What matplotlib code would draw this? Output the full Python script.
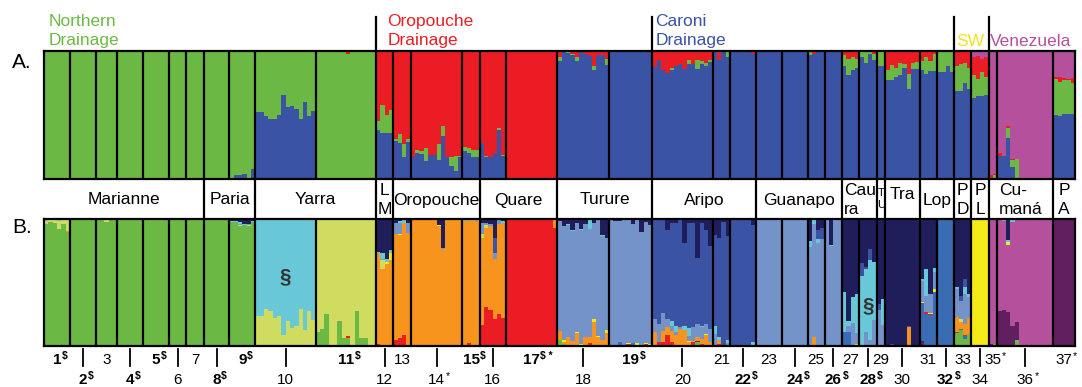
import numpy as np
import matplotlib
matplotlib.use("Agg")
import matplotlib.pyplot as plt
from matplotlib.lines import Line2D
from matplotlib.transforms import Affine2D, blended_transform_factory, offset_copy

plt.rcParams["font.family"] = ["Liberation Sans", "DejaVu Sans"]

W, H = 1082, 387

# individuals sampled per population (populations 1..37)
counts = [6, 6, 5, 6, 6, 4, 4, 6, 6, 14, 14, 4, 4, 12, 4, 6, 12, 12, 10, 14,
          4, 6, 6, 6, 4, 4, 4, 4, 2, 8, 4, 4, 4, 4, 2, 13, 5]

# superscripts after the population numbers; "$" numbers are printed bold
pop_sup = {1: "$", 2: "$", 4: "$", 5: "$", 8: "$", 9: "$", 11: "$", 14: "*",
           15: "$", 17: "$ *", 19: "$", 22: "$", 24: "$", 26: "$", 28: "$",
           32: "$", 35: "*", 36: "*", 37: "*"}

# drainage headers above panel A
header_names = ["Northern\nDrainage", "Oropouche\nDrainage", "Caroni\nDrainage", "SW", "Venezuela"]
header_start = [1, 12, 20, 33, 35]
header_colors = ["#6bb944", "#ec1c24", "#3a53a4", "#f2e41c", "#b5519c"]
header_dx = [5, 11, 3, 2, 1]

# river names between the panels
group_names = ["Marianne", "Paria", "Yarra", "L\nM", "Oropouche", "Quare", "Turure",
               "Aripo", "Guanapo", "Cau\nra", "T\nU", "Tra", "Lop", "P\nD", "P\nL",
               "Cu-\nmaná", "P\nA"]
group_start = [1, 8, 10, 12, 13, 16, 18, 20, 23, 27, 29, 30, 31, 33, 34, 35, 37]

# ---- panel A: membership in 4 clusters ----
a_order = ["blue", "green", "red", "pink"]
a_colors = {"blue": "#3a53a4", "green": "#6bb944", "red": "#ec1c24", "pink": "#b5519c"}
a_main = (["green"] * 11 + ["red"] * 6 + ["blue"] * 17 + ["pink"] * 2 + ["blue"])

a_blue = {
    9: [0, .03, .035, .04, 0, .08],
    10: [.52, .52, .49, .465, .47, .50, .655, .56, .57, .55, .47, .60, .49, .53],
    12: [.38, .36, .36, .36],
    13: [.30, .28, .17, .29],
    14: [.17, .20, .195, .14, .19, .19, .15, .335, .17, .10, .06, .17],
    15: [.22, .20, .17, .17],
    16: [.28, .17, .17, .20, .38, .18],
    35: [.01, 0],
    36: [.18, .18, .32, .09, 0, 0, 0, 0, 0, 0, 0, 0, 0],
}
a_green = {
    12: [.07, .22, .14, .18],
    13: [.01, .07, .10, .02],
    14: [0, .025, .025, .10, 0, 0, .125, .08, 0, .07, .12, .01],
    15: [.03, .04, .06, .06],
    16: [0, .01, 0, 0, .015, .005],
    18: [.03, 0, .005, .01, .025, 0, 0, 0, .025, 0, 0, .05],
    19: [0, 0, 0, 0, 0, .01, 0, 0, 0, 0],
    20: [0, 0, 0, 0, .01, 0, 0, 0, .03, 0, .07, .025, .025, .013],
    21: [0, 0, 0, .035],
    25: [.025, 0, 0, 0],
    27: [.08, .125, .10, .065],
    28: [.05, .09, .025, .045],
    29: [.105, .12],
    30: [.08, .12, .07, .10, .03, .115, .05, .055],
    31: [.07, .13, .08, .13],
    32: [.155, .165, .115, .165],
    33: [.195, .215, .16, .17],
    34: [.175, .135, .19, .14],
    35: [0, .03],
    36: [0, 0, .08, .06, .155, 0, 0, 0, 0, 0, 0, 0, 0],
    37: [.28, .27, .26, .265, .245],
}
a_red = {
    11: [0, 0, 0, 0, 0, 0, 0, .02, 0, 0, 0, 0, 0, 0],
    18: [.05, .01, .01, .02, .05, .01, .02, .04, .12, .03, .03, .06],
    20: [.125, .07, .145, .17, .135, .115, .10, .14, .07, .10, .07, .075, .095, .07],
    21: [.01, .07, .01, .01],
    22: [0, 0, 0, 0, 0, .02],
    25: [.01, .02, .01, 0],
    27: [.035, .065, .045, .065],
    28: [0, 0, 0, .025],
    29: [.01, 0],
    30: [.15, .11, .13, .09, .10, .18, .09, .085],
    31: [.08, .05, .08, .025],
    32: [.01, 0, 0, 0],
    33: [.115, .10, .09, .13],
    34: [.145, .18, .105, .155],
    35: [.02, .01],
    36: [.02, 0, .013, .005, 0, 0, 0, 0, 0, 0, 0, 0, 0],
    37: [.02, .04, .02, .01, .04],
}
a_pink = {
    34: [.045, .04, .06, .05],
    37: [.20, .20, .21, .215, .21],
}

# ---- panel B: membership in 12 clusters ----
b_order = ["green", "purple", "pink", "midblue", "red", "orange", "yellow", "lime",
           "steel", "cyan", "blue", "navy"]
b_colors = {"green": "#6bb944", "purple": "#621f5f", "pink": "#b5519c",
            "midblue": "#3a6cb4", "red": "#ec1c24", "orange": "#f7941d",
            "yellow": "#f4ea17", "lime": "#cfdc5f", "steel": "#7393c9",
            "cyan": "#68c8d7", "blue": "#3a53a4", "navy": "#201e5a"}
b_main = ["green", "green", "green", "green", "green", "green", "green", "green", "green",
          "cyan", "lime", "orange", "orange", "orange", "orange", "orange", "red",
          "steel", "steel", "blue", "blue", "blue", "steel", "steel", "steel", "steel",
          "navy", "cyan", "navy", "navy", "navy", "midblue", "navy", "yellow",
          "pink", "pink", "purple"]

b_navy = {
    1: [.01, .01, .005, .01, .005, .01],
    2: [.005, 0, 0, 0, .005, 0],
    8: [.015, .01, .015, .01, .015, .01],
    9: [.02, .02, .03, .04, .04, .02],
    10: [.01, .01, .01, .01, .01, .01, .01, .01, .01, .01, .01, .01, .01, .01],
    11: [.01, .01, .01, .01, .01, .01, .01, .01, .01, .01, .01, .01, .01, .01],
    12: [.26, .27, .32, .25],
    13: [.035, .02, .015, .035],
    14: [.005, .005, .005, .005, .005, .005, .05, .23, .005, .005, .005, .005],
    15: [.015, .015, .01, .015],
    16: [.035, .035, .04, .15, .01, .02],
    17: [.005, .005, .005, .005, .005, .005, .005, .005, .005, .005, .005, .005],
    18: [.02, .06, .04, .09, .035, .08, .04, 0, .035, .015, .13, .15],
    19: [.01, .02, .02, 0, .01, .04, .01, .11, .025, .055],
    20: [.01, .01, .01, .09, .035, .035, .01, .19, .035, .035, .31, .035, .09, .22],
    21: [.13, .15, .03, .14],
    22: [0, 0, 0, 0, 0, .055],
    23: [.005, .005, .005, .005, .005, .005],
    25: [.18, 0, .09, .075],
    26: [0, .205, 0, 0],
    28: [.35, .38, .24, .34],
    32: [.01, .01, .01, .01],
    34: [.005, .01, .005, .005],
    35: [.01, .01],
    36: [.01, .01, .17, 0, 0, 0, 0, 0, 0, 0, 0, 0, 0],
    37: [.005, .005, .005, .005, .005],
}
b_cyan = {
    1: [.01, 0, 0, .01, 0, 0],
    9: [.01, .005, .01, .01, 0, .01],
    12: [.015, .05, .02, .02],
    13: [0, .015, .02, 0],
    15: [.005, 0, .01, 0],
    16: [0, 0, 0, 0, 0, .015],
    17: [0, 0, .005, 0, 0, 0, 0, .005, 0, 0, 0, 0],
    18: [0, 0, .015, .01, 0, .01, 0, .085, 0, 0, .01, 0],
    19: [0, 0, 0, .01, 0, 0, 0, 0, 0, 0],
    20: [0, 0, 0, 0, .04, .045, 0, .03, .065, 0, 0, .013, 0, 0],
    21: [.06, .025, 0, .025],
    22: [0, 0, 0, 0, 0, .025],
    25: [.045, .04, .025, 0],
    26: [0, .015, 0, 0],
    27: [.31, .035, .2, .31],
    29: [0, .21],
    31: [.02, .21, 0, .035],
    33: [.013, 0, .05, .02],
    36: [0, .01, .015, .025, 0, .01, 0, 0, 0, 0, 0, 0, 0],
    37: [.005, 0, .005, 0, 0],
}
b_blue = {
    16: [0, 0, 0, .12, 0, 0],
    25: [0, 0, .075, .09],
    28: [.105, .02, .085, 0],
    29: [.05, 0],
    30: [0, .01, 0, 0, 0, .008, 0, 0],
    33: [0, .04, .065, 0],
}
b_steel = {
    9: [0, 0, .01, 0, .01, 0],
    12: [0, .005, 0, 0],
    13: [.09, .085, 0, .08],
    14: [0, 0, 0, 0, 0, 0, 0, .01, 0, 0, 0, 0],
    16: [.09, .02, .02, .05, .03, 0],
    20: [.105, .145, .14, .065, .04, .026, .013, 0, .04, .105, .105, .09, .085, .105],
    21: [.09, 0, 0, .02],
    27: [0, .05, .18, .09],
    28: [0, .105, .04, .2],
    29: [.28, .16],
    31: [.16, .13, .145, .13],
    33: [.22, .145, .24, .165],
}
b_lime = {
    1: [.02, .02, .03, .06, .04, .09],
    3: [0, 0, .03, 0, 0],
    4: [0, 0, 0, .005, .005, 0],
    5: [0, .005, .005, 0, 0, 0],
    9: [0, 0, .01, .005, .01, 0],
    10: [.23, .23, .29, .27, .22, .23, .08, .19, .14, .15, .29, .12, .27, .20],
    12: [0, .07, 0, 0],
    16: [.03, .02, 0, 0, 0, 0],
    33: [0, .025, 0, 0],
}
b_yellow = {
    12: [0, 0, .02, .06],
    13: [0, .008, 0, 0],
    14: [0, 0, 0, .01, 0, 0, .01, 0, 0, 0, 0, 0],
    18: [0, .01, 0, 0, .008, .01, 0, 0, .025, .01, 0, .02],
    19: [0, 0, 0, 0, .01, 0, .02, 0, .01, .01],
    20: [0, 0, 0, 0, 0, 0, 0, 0, .008, 0, 0, 0, .008, 0],
    27: [.005, 0, 0, .008],
    31: [.01, 0, .013, .025],
    36: [0, 0, .025, 0, 0, .005, 0, 0, 0, 0, 0, 0, 0],
}
b_orange = {
    1: [0, 0, 0, 0, 0, .01],
    17: [0, 0, 0, 0, 0, 0, 0, 0, 0, 0, 0, .07],
    18: [.07, .02, .07, .035, .10, 0, .07, .05, .185, .065, .035, .10],
    20: [.105, 0, .09, .065, .09, .08, .13, .12, .026, .013, .026, .04, .08, .026],
    21: [0, .03, 0, 0],
    25: [0, .07, 0, 0],
    30: [0, 0, 0, 0, 0, .145, 0, 0],
    33: [.12, .05, .085, .13],
}
b_red = {
    11: [0, 0, 0, 0, 0, 0, 0, .015, 0, 0, 0, 0, 0, 0],
    12: [.01, 0, 0, 0],
    13: [.045, .06, .08, 0],
    15: [0, .02, 0, 0],
    16: [.16, .30, .28, .21, .25, .22],
    18: [.005, 0, 0, 0, 0, 0, 0, .02, 0, 0, .005, 0],
    19: [0, 0, 0, 0, .01, 0, 0, 0, .01, 0],
    20: [0, .026, .026, .08, .026, 0, 0, 0, 0, .026, 0, .013, 0, 0],
    21: [0, .01, 0, 0],
    31: [0, .013, .005, 0],
    33: [.008, 0, .008, 0],
}
b_midblue = {
    19: [0, 0, .03, 0, 0, .02, 0, 0, 0, 0],
    27: [.105, .105, 0, 0],
    31: [.30, .25, .24, .42],
    33: [0, .013, .025, 0],
}
b_pink = {}
b_purple = {
    20: [0, 0, 0, 0, 0, 0, 0, 0, 0, 0, .013, 0, 0, 0],
    31: [.035, 0, 0, 0],
    35: [.013, 0],
    36: [.27, .28, .26, .15, .145, 0, 0, 0, 0, 0, 0, 0, 0],
}
b_green = {
    11: [.11, .13, .25, 0, 0, .19, .06, .06, 0, .27, .06, .06, 0, 0],
    18: [.04, .01, 0, 0, 0, 0, 0, 0, 0, 0, 0, 0],
    20: [0, 0, 0, 0, 0, 0, 0, 0, 0, 0, .026, 0, 0, 0],
    33: [.10, .12, .05, .09],
    35: [0, .01],
    36: [0, 0, 0, 0, .04, 0, 0, 0, 0, 0, 0, 0, 0],
}

cum = np.concatenate([[0], np.cumsum(counts)])
N = int(cum[-1])


def build(order, main, minors):
    """Fill a cluster x individual matrix; the main cluster takes the remainder."""
    q = np.zeros((len(order), N))
    for k, name in enumerate(order):
        for p, vals in minors.get(name, {}).items():
            if len(vals) != counts[p - 1]:
                raise ValueError(f"{name} pop {p}: {len(vals)} values, expected {counts[p - 1]}")
            q[k, cum[p - 1]:cum[p]] = vals
    for p in range(1, len(counts) + 1):
        k = order.index(main[p - 1])
        sl = slice(cum[p - 1], cum[p])
        q[k, sl] = 1 - (q[:, sl].sum(axis=0) - q[k, sl])
    return q


qa = build(a_order, a_main, {"blue": a_blue, "green": a_green, "red": a_red, "pink": a_pink})
qb = build(b_order, b_main, {"navy": b_navy, "cyan": b_cyan, "blue": b_blue, "steel": b_steel,
                             "lime": b_lime, "yellow": b_yellow, "orange": b_orange,
                             "red": b_red, "midblue": b_midblue, "pink": b_pink,
                             "purple": b_purple, "green": b_green})


def draw_panel(ax, q, order, colors):
    x = np.arange(N)
    base = np.zeros(N)
    for k, name in enumerate(order):
        ax.bar(x, q[k], bottom=base, width=1.0, align="edge", color=colors[name],
               linewidth=0, antialiased=False)
        base += q[k]
    for b in cum[1:-1]:
        ax.axvline(b, color="black", lw=1.6, zorder=3)
    ax.set_xlim(0, N)
    ax.set_ylim(0, 1)
    ax.set_xticks([])
    ax.set_yticks([])
    for s in ax.spines.values():
        s.set_linewidth(1.6)
        s.set_zorder(4)


fig = plt.figure(figsize=(W / 100, H / 100), dpi=100)
ax_a = fig.add_axes([44 / W, 1 - 179 / H, 1031 / W, 128 / H])
ax_b = fig.add_axes([44 / W, 1 - 345.5 / H, 1031 / W, 127 / H])
draw_panel(ax_a, qa, a_order, a_colors)
draw_panel(ax_b, qb, b_order, b_colors)

# y in pixels from the top of the figure, x in individuals
px = Affine2D().scale(1 / W, -1 / H).translate(0, 1) + fig.transFigure
tx = blended_transform_factory(ax_b.transData, px)


def vline(x, y0, y1, lw=1.6):
    fig.add_artist(Line2D([x, x], [y0, y1], color="black", lw=lw, transform=tx))


fig.text(12, 68, "A.", transform=px, fontsize=15, va="baseline")
fig.text(12, 233, "B.", transform=px, fontsize=15, va="baseline")

# drainage headers
for name, start, color, dx in zip(header_names, header_start, header_colors, header_dx):
    x = cum[start - 1]
    if start > 1:
        vline(x, 17, 51)
    lines = name.split("\n")
    base_y = 45.5 if len(lines) == 1 else 26
    for i, line in enumerate(lines):
        fig.text(x, base_y + 19.5 * i, line, transform=offset_copy(tx, fig=fig, x=dx, units="dots"),
                 fontsize=12.5, color=color, va="baseline", ha="left")

# river labels between the panels
group_end = group_start[1:] + [len(counts) + 1]
for name, s, e in zip(group_names, group_start, group_end):
    x0, x1 = cum[s - 1], cum[e - 1]
    if s > 1:
        vline(x0, 179, 218.5)
    lines = name.split("\n")
    if len(lines) == 1:
        y = 199 if name == "Tra" else 204.5
        fig.text((x0 + x1) / 2, y, name, transform=tx, fontsize=12.5, ha="center", va="baseline")
    else:
        size = 8 if name == "T\nU" else 12.5
        ys = [196, 208] if name == "T\nU" else [195, 214]
        for j, (line, y) in enumerate(zip(lines, ys)):
            if name == "Cau\nra":
                fig.text(x0, y, line, transform=offset_copy(tx, fig=fig, x=2, units="dots"),
                         fontsize=size, ha="left", va="baseline")
            else:
                shift = -8 if (name == "Cu-\nmaná" and j == 0) else 0
                fig.text((x0 + x1) / 2, y, line,
                         transform=offset_copy(tx, fig=fig, x=shift, units="dots"),
                         fontsize=size, ha="center", va="baseline")

# cluster markers
for p, y in [(10, 277), (28, 306)]:
    fig.text((cum[p - 1] + cum[p]) / 2, y, "§", transform=tx, fontsize=15,
             fontweight="bold", color="#333333", ha="center", va="center")

# population numbers, alternating rows
for p in range(1, len(counts) + 1):
    xc = (cum[p - 1] + cum[p]) / 2
    sup = pop_sup.get(p, "")
    weight = "bold" if "$" in sup else "normal"
    if p % 2 == 1:
        y = 364.5
    else:
        y = 384.5
        vline(xc, 348.6, 365.9, lw=1.3)
    t = fig.text(xc, y, str(p), transform=tx, fontsize=11, fontweight=weight,
                 ha="center", va="baseline")
    if sup:
        ax_b.annotate(sup.replace("$", r"\$"), xy=(1, 1), xycoords=t, xytext=(0.4, 1.5),
                      textcoords="offset points", ha="left", va="top", fontsize=7.5,
                      fontweight=weight, annotation_clip=False)

fig.savefig("out.png", dpi=100)
